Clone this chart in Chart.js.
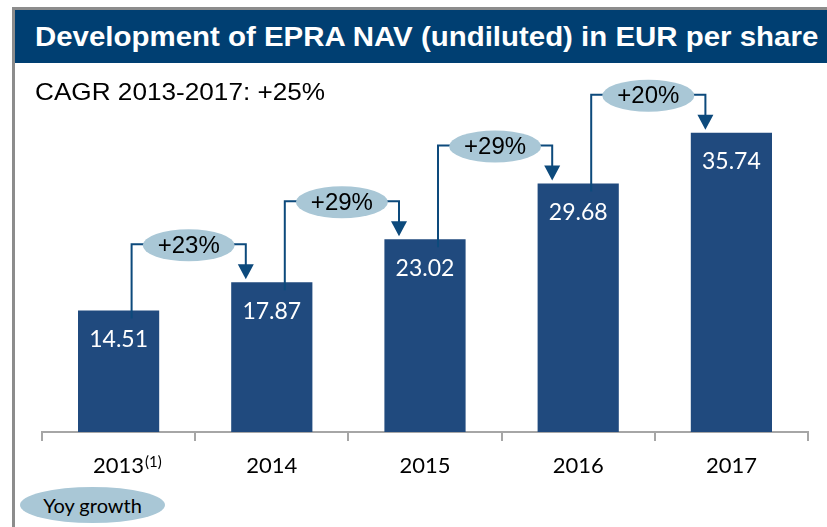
<!DOCTYPE html>
<html>
<head>
<meta charset="utf-8">
<script src="https://cdn.jsdelivr.net/npm/chart.js@4.4.0/dist/chart.umd.min.js"></script>
<style>
  body { margin: 0; background: #fff; }
  #wrap { position: relative; width: 827px; height: 527px; overflow: hidden; background: #fff; }
  #chart { position: absolute; left: 0; top: 0; }
  .frame-top { position: absolute; left: 12px; top: 7px; width: 815px; height: 3px; background: #8c8c8c; }
  .frame-left { position: absolute; left: 12px; top: 7px; width: 3px; height: 520px; background: #8c8c8c; }
  .title-bar { position: absolute; left: 15px; top: 10px; width: 812px; height: 53px; background: #003f72; }
  .title { position: absolute; left: 35px; top: 24px; font: bold 27px/1 "Liberation Sans", Arial, sans-serif; color: #fff;
           white-space: nowrap; transform: scaleX(1.09); transform-origin: left top; }
  .cagr { position: absolute; left: 35px; top: 80px; font: 24px/1 "Liberation Sans", Arial, sans-serif; color: #000;
          white-space: nowrap; transform: scaleX(1.09); transform-origin: left top; }
  .yoy { position: absolute; left: 20px; top: 487px; width: 145px; height: 36px; border-radius: 50%; background: #a9c7d6;
         font: 20px Lato, sans-serif; color: #000; text-align: center; line-height: 36px; }
</style>
</head>
<body>
<div id="wrap">
  <canvas id="chart" width="827" height="527"></canvas>
  <div class="frame-top"></div>
  <div class="frame-left"></div>
  <div class="title-bar"></div>
  <div class="title">Development of EPRA NAV (undiluted) in EUR per share</div>
  <div class="cagr">CAGR 2013-2017: +25%</div>
  <div class="yoy">Yoy growth</div>
</div>
<script>
const years = ['2013', '2014', '2015', '2016', '2017'];
const navPerShare = [14.51, 17.87, 23.02, 29.68, 35.74];
const yoyGrowth = ['+23%', '+29%', '+29%', '+20%'];
const footnoteYear = '2013';
const footnoteMark = '(1)';

const barColor = '#204a7e';
const lineColor = '#0d4a7c';
const bubbleColor = '#a9c7d6';

// white value labels inside the top of each bar
const valueLabels = {
  id: 'valueLabels',
  afterDatasetsDraw(chart) {
    const ctx = chart.ctx;
    const meta = chart.getDatasetMeta(0);
    ctx.save();
    ctx.fillStyle = '#fff';
    ctx.font = '23px Lato, sans-serif';
    ctx.textAlign = 'center';
    ctx.textBaseline = 'middle';
    meta.data.forEach((bar, i) => {
      ctx.fillText(navPerShare[i].toFixed(2), bar.x, bar.y + 29);
    });
    ctx.restore();
  }
};

// growth bubbles with elbow connectors between consecutive bars
const growthArrows = {
  id: 'growthArrows',
  afterDatasetsDraw(chart) {
    const ctx = chart.ctx;
    const meta = chart.getDatasetMeta(0);
    ctx.save();
    yoyGrowth.forEach((txt, i) => {
      const from = meta.data[i];
      const to = meta.data[i + 1];
      const x1 = from.x + 13;
      const x2 = to.x - 26;
      const yLine = to.y - 38;
      const cx = (x1 + x2) / 2;
      const rx = 46;
      const ry = 16;

      ctx.strokeStyle = lineColor;
      ctx.lineWidth = 2;
      ctx.beginPath();
      ctx.moveTo(x1, from.y + 8);
      ctx.lineTo(x1, yLine);
      ctx.lineTo(cx - rx + 4, yLine);
      ctx.moveTo(cx + rx - 4, yLine);
      ctx.lineTo(x2, yLine);
      ctx.lineTo(x2, to.y - 16);
      ctx.stroke();

      ctx.fillStyle = lineColor;
      ctx.beginPath();
      ctx.moveTo(x2 - 8, to.y - 18);
      ctx.lineTo(x2 + 8, to.y - 18);
      ctx.lineTo(x2, to.y - 3);
      ctx.closePath();
      ctx.fill();

      ctx.fillStyle = bubbleColor;
      ctx.beginPath();
      ctx.ellipse(cx, yLine + 1, rx, ry, 0, 0, Math.PI * 2);
      ctx.fill();

      ctx.fillStyle = '#000';
      ctx.font = '24px "Liberation Sans", Arial, sans-serif';
      ctx.textAlign = 'center';
      ctx.textBaseline = 'middle';
      ctx.fillText(txt, cx, yLine + 2);
    });
    ctx.restore();
  }
};

// superscript footnote next to the first year label
const footnote = {
  id: 'footnote',
  afterDraw(chart) {
    const scale = chart.scales.x;
    const idx = years.indexOf(footnoteYear);
    if (idx < 0) return;
    const ctx = chart.ctx;
    const x = scale.getPixelForValue(idx);
    ctx.save();
    ctx.font = '22px Lato, sans-serif';
    const w = ctx.measureText(footnoteYear).width;
    ctx.font = '15px Lato, sans-serif';
    ctx.fillStyle = '#000';
    ctx.textAlign = 'left';
    ctx.textBaseline = 'top';
    ctx.fillText(footnoteMark, x + w / 2 + 1, 455);
    ctx.restore();
  }
};

new Chart(document.getElementById('chart'), {
  type: 'bar',
  data: {
    labels: years,
    datasets: [{
      data: navPerShare,
      backgroundColor: barColor,
      borderWidth: 0,
      categoryPercentage: 1,
      barPercentage: 0.53,
    }],
  },
  options: {
    responsive: false,
    animation: false,
    layout: {
      padding: { left: 42, right: 19, top: 97, bottom: 0 },
    },
    plugins: {
      legend: { display: false },
      tooltip: { enabled: false },
    },
    scales: {
      x: {
        offset: true,
        grid: {
          offset: true,
          drawOnChartArea: false,
          drawTicks: true,
          tickLength: 9,
          color: '#a6a6a6',
          lineWidth: 2,
        },
        border: { display: true, color: '#a6a6a6', width: 2 },
        ticks: {
          color: '#000',
          padding: 12,
          font: { family: 'Lato', size: 22 },
        },
        afterFit(scale) {
          scale.height = 95;
        },
      },
      y: {
        display: false,
        min: 0,
        max: 40,
      },
    },
  },
  plugins: [valueLabels, growthArrows, footnote],
});
</script>
</body>
</html>
